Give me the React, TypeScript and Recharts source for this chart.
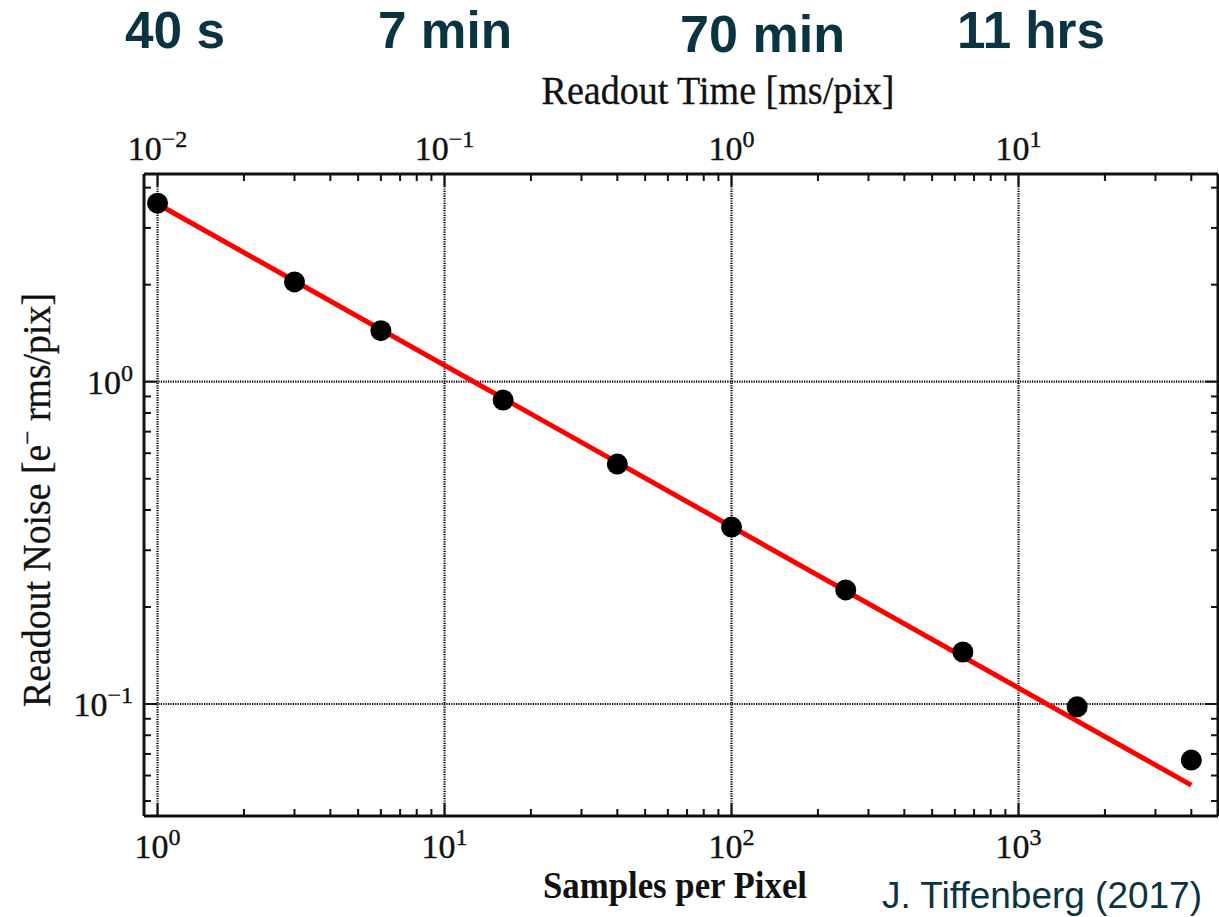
import React from "react";
import { ScatterChart, Scatter, XAxis, YAxis, ReferenceLine } from "recharts";

// measured points: samples per pixel vs readout noise
const SAMPLES = [1, 3, 6, 16, 40, 100, 250, 640, 1600, 4000];
const NOISE = [3.58, 2.04, 1.44, 0.877, 0.555, 0.354, 0.226, 0.145, 0.098, 0.067];

// fitted 1/sqrt(N) line, end points
const FIT_SAMPLES = [1, 4000];
const FIT_NOISE = [3.56, 0.056];

const X_MAJOR = [1, 10, 100, 1000];
const X_MINOR = [2, 3, 4, 5, 6, 7, 8, 9, 20, 30, 40, 50, 60, 70, 80, 90, 200, 300, 400, 500, 600, 700, 800, 900, 2000, 3000, 4000];
const Y_MAJOR = [0.1, 1];
const Y_MINOR = [0.05, 0.06, 0.07, 0.08, 0.09, 0.2, 0.3, 0.4, 0.5, 0.6, 0.7, 0.8, 0.9, 2, 3, 4];

const TIME_LABELS = ["40 s", "7 min", "70 min", "11 hrs"];
const CREDIT = "J. Tiffenberg (2017)";

const X_DOMAIN = [0.897, 4955];
const Y_DOMAIN = [0.04493, 4.41];

const points = SAMPLES.map((n, i) => ({ n, noise: NOISE[i] }));
const fit = FIT_SAMPLES.map((n, i) => ({ n, noise: FIT_NOISE[i] }));
const xTicks = [...X_MAJOR, ...X_MINOR].sort((a, b) => a - b);
const yTicks = [...Y_MAJOR, ...Y_MINOR].sort((a, b) => a - b);

const INK = "#111";
const TEAL = "#0b3442";
const SERIF = "'Liberation Serif', 'Times New Roman', serif";
const SANS = "'Liberation Sans', Arial, sans-serif";
const MAJOR_LEN = 12;
const MINOR_LEN = 7;

const expOf = (v: number) => Math.round(Math.log10(v));
const fmtExp = (e: number) => (e < 0 ? `\u2212${-e}` : `${e}`);

const Power = ({ x, y, exp, anchor }: { x: number; y: number; exp: number; anchor: "middle" | "end" }) => (
  <text x={x} y={y} textAnchor={anchor} fontFamily={SERIF} fontSize={34} fill={INK} stroke={INK} strokeWidth={0.4}>
    10
    <tspan dy={-13} fontSize={24}>
      {fmtExp(exp)}
    </tspan>
  </text>
);

const BottomTick = (props: any) => {
  const { x, y, payload } = props;
  const major = X_MAJOR.includes(payload.value);
  return (
    <g>
      <line x1={x} x2={x} y1={y} y2={y - (major ? MAJOR_LEN : MINOR_LEN)} stroke={INK} strokeWidth={2} />
      {major && <Power x={x} y={y + 42} exp={expOf(payload.value)} anchor="middle" />}
    </g>
  );
};

const TopTick = (props: any) => {
  const { x, y, payload } = props;
  const major = X_MAJOR.includes(payload.value);
  return (
    <g>
      <line x1={x} x2={x} y1={y} y2={y + (major ? MAJOR_LEN : MINOR_LEN)} stroke={INK} strokeWidth={2} />
      {major && <Power x={x} y={y - 14} exp={expOf(payload.value) - 2} anchor="middle" />}
    </g>
  );
};

const LeftTick = (props: any) => {
  const { x, y, payload } = props;
  const major = Y_MAJOR.includes(payload.value);
  return (
    <g>
      <line x1={x} x2={x + (major ? MAJOR_LEN : MINOR_LEN)} y1={y} y2={y} stroke={INK} strokeWidth={2} />
      {major && <Power x={x - 11} y={y + 12} exp={expOf(payload.value)} anchor="end" />}
    </g>
  );
};

const RightTick = (props: any) => {
  const { x, y, payload } = props;
  const major = Y_MAJOR.includes(payload.value);
  return <line x1={x} x2={x - (major ? MAJOR_LEN : MINOR_LEN)} y1={y} y2={y} stroke={INK} strokeWidth={2} />;
};

const Dot = (props: any) => <circle cx={props.cx} cy={props.cy} r={10.5} fill="#000" />;
const NoDot = () => <g />;

const frame = { stroke: INK, strokeWidth: 3 };

export default function App() {
  return (
    <div style={{ position: "absolute", left: 0, top: 0, width: 1219, height: 917, background: "#fff" }}>
      <ScatterChart width={1219} height={917} margin={{ top: 0, right: 0, bottom: 0, left: 0 }}>
        <XAxis
          xAxisId="bottom"
          orientation="bottom"
          type="number"
          dataKey="n"
          scale="log"
          domain={X_DOMAIN}
          allowDataOverflow
          ticks={xTicks}
          interval={0}
          height={101}
          tickSize={0}
          tickMargin={0}
          tickLine={false}
          tick={<BottomTick />}
          axisLine={frame}
          label={{
            content: () => (
              <text x={675} y={898} textAnchor="middle" fontFamily={SERIF} fontWeight="bold" fontSize={38} fill={INK} textLength={264} lengthAdjust="spacingAndGlyphs">
                Samples per Pixel
              </text>
            ),
          }}
        />
        <XAxis
          xAxisId="top"
          orientation="top"
          type="number"
          dataKey="n"
          scale="log"
          domain={X_DOMAIN}
          allowDataOverflow
          ticks={xTicks}
          interval={0}
          height={174}
          tickSize={0}
          tickMargin={0}
          tickLine={false}
          tick={<TopTick />}
          axisLine={frame}
          label={{
            content: () => (
              <text x={718} y={104} textAnchor="middle" fontFamily={SERIF} fontSize={39} fill={INK} stroke={INK} strokeWidth={0.3} textLength={353} lengthAdjust="spacingAndGlyphs">
                Readout Time [ms/pix]
              </text>
            ),
          }}
        />
        <YAxis
          yAxisId="left"
          orientation="left"
          type="number"
          dataKey="noise"
          scale="log"
          domain={Y_DOMAIN}
          allowDataOverflow
          ticks={yTicks}
          interval={0}
          width={144}
          tickSize={0}
          tickMargin={0}
          tickLine={false}
          tick={<LeftTick />}
          axisLine={frame}
          label={{
            content: () => (
              <text
                x={50}
                y={500}
                transform="rotate(-90, 50, 500)"
                textAnchor="middle"
                fontFamily={SERIF}
                fontSize={39}
                fill={INK}
                stroke={INK}
                strokeWidth={0.3}
                textLength={414}
                lengthAdjust="spacingAndGlyphs"
              >
                Readout Noise [e
                <tspan dy={-14} fontSize={26}>
                  {"\u2212"}
                </tspan>
                <tspan dy={14}> rms/pix]</tspan>
              </text>
            ),
          }}
        />
        <YAxis
          yAxisId="right"
          orientation="right"
          type="number"
          dataKey="noise"
          scale="log"
          domain={Y_DOMAIN}
          allowDataOverflow
          ticks={yTicks}
          interval={0}
          width={1}
          tickSize={0}
          tickMargin={0}
          tickLine={false}
          tick={<RightTick />}
          axisLine={frame}
        />

        {X_MAJOR.map((v) => (
          <ReferenceLine key={`gx-${v}`} x={v} xAxisId="bottom" yAxisId="left" stroke="#000" strokeWidth={2.2} strokeDasharray="1.2 1.2" />
        ))}
        {Y_MAJOR.map((v) => (
          <ReferenceLine key={`gy-${v}`} y={v} xAxisId="bottom" yAxisId="left" stroke="#000" strokeWidth={2.2} strokeDasharray="1.2 1.2" />
        ))}

        <Scatter
          name="fit"
          data={fit}
          xAxisId="bottom"
          yAxisId="left"
          line={{ stroke: "#ff0000", strokeWidth: 5 }}
          lineType="joint"
          shape={NoDot}
          isAnimationActive={false}
        />
        <Scatter name="data" data={points} xAxisId="bottom" yAxisId="left" shape={Dot} isAnimationActive={false} />
      </ScatterChart>

      <svg width={1219} height={917} style={{ position: "absolute", left: 0, top: 0, pointerEvents: "none" }}>
        {TIME_LABELS.map((t, i) => {
          const pos = [
            { x: 125, y: 48, w: 100 },
            { x: 378, y: 48, w: 134 },
            { x: 680, y: 52, w: 165 },
            { x: 957, y: 48, w: 148 },
          ][i];
          return (
            <text key={t} x={pos.x} y={pos.y} fontFamily={SANS} fontWeight="bold" fontSize={52} fill={TEAL} textLength={pos.w} lengthAdjust="spacingAndGlyphs">
              {t}
            </text>
          );
        })}
        <text x={882} y={908} fontFamily={SANS} fontSize={36} fill={TEAL} textLength={320} lengthAdjust="spacingAndGlyphs">
          {CREDIT}
        </text>
      </svg>
    </div>
  );
}
